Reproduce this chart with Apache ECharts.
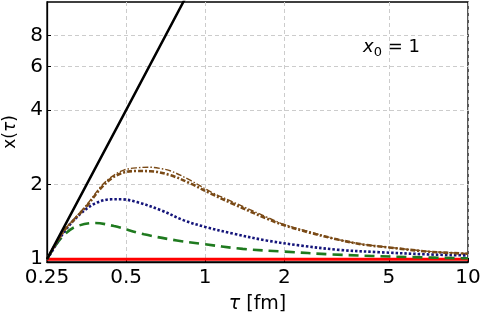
<!DOCTYPE html>
<html>
<head>
<meta charset="utf-8">
<title>x(tau)</title>
<script src="https://cdn.jsdelivr.net/npm/echarts@6/dist/echarts.min.js"></script>
<style>
  html, body { margin: 0; padding: 0; background: #fff; }
  #main { width: 482px; height: 322px; }
</style>
</head>
<body>
<div id="main"></div>
<script>
// tick labels
var xTicks = [0.25, 0.5, 1, 2, 5, 10];
var yTicks = [1, 2, 4, 6, 8];

// curves (tau in fm, x(tau))
var blackTau = [0.25, 0.5, 0.85];
var blackVal = [1, 4, 11.6];

var redTau = [0.25, 10];
var redVal = [1, 1];

var greenTau = [0.25, 0.27, 0.29, 0.32, 0.38, 0.45, 0.585, 0.78, 0.96, 1.39, 1.98, 3.05, 6.1, 10];
var greenVal = [1, 1.14, 1.25, 1.35, 1.40, 1.36, 1.26, 1.19, 1.155, 1.10, 1.074, 1.045, 1.019, 1.008];

var blueTau = [0.25, 0.26, 0.29, 0.33, 0.38, 0.44, 0.48, 0.55, 0.68, 0.83, 1.0, 1.28, 1.71, 2.29, 3.24, 4.6, 7.1, 10];
var blueVal = [1, 1.067, 1.286, 1.503, 1.676, 1.745, 1.745, 1.70, 1.575, 1.434, 1.35, 1.267, 1.19, 1.136, 1.09, 1.067, 1.045, 1.035];

var brownTau = [0.25, 0.29, 0.32, 0.356, 0.40, 0.44, 0.49, 0.55, 0.62, 0.74, 0.88, 1.05, 1.28, 1.71, 2.0, 2.5, 3.2, 4.0, 5.0, 7.1, 10];
var brownVal = [1, 1.30, 1.46, 1.65, 1.93, 2.12, 2.24, 2.27, 2.265, 2.18, 2.02, 1.84, 1.67, 1.46, 1.37, 1.28, 1.20, 1.145, 1.115, 1.072, 1.052];

var brown2Tau = [0.25, 0.29, 0.32, 0.356, 0.40, 0.44, 0.49, 0.55, 0.62, 0.68, 0.74, 0.88, 1.05, 1.28, 1.71, 2.0, 2.5, 3.2, 4.0, 5.0, 7.1, 10];
var brown2Val = [1, 1.30, 1.47, 1.67, 1.96, 2.15, 2.29, 2.34, 2.35, 2.32, 2.27, 2.08, 1.87, 1.70, 1.48, 1.38, 1.29, 1.20, 1.148, 1.117, 1.075, 1.054];

var xMin = 0.25, xMax = 10;
var yMin = 0.974, yMax = 10.93;

var lg = Math.log10;
function pts(t, v) {
    return t.map(function (tt, i) { return [lg(tt), lg(v[i])]; });
}
function fmt(v) {
    return String(+Math.pow(10, v).toPrecision(2));
}

var font = 'DejaVu Sans';
var chart = echarts.init(document.getElementById('main'));

var gridLine = { show: true, lineStyle: { color: '#cccccc', type: [4, 3], width: 1 } };

var option = {
    animation: false,
    backgroundColor: '#fff',
    grid: {
        left: 47, right: 14, top: 2, bottom: 60,
        show: true, borderColor: '#000', borderWidth: 1.3,
        outerBoundsMode: 'none'
    },
    xAxis: {
        type: 'value',
        min: lg(xMin), max: lg(xMax),
        axisLine: { onZero: false, lineStyle: { color: '#000', width: 1.3 } },
        axisTick: { inside: true, length: 4, lineStyle: { color: '#000' }, customValues: xTicks.map(lg) },
        axisLabel: { customValues: xTicks.map(lg), formatter: fmt, color: '#000', fontFamily: font, fontSize: 20, margin: 6 },
        splitLine: gridLine,
        name: '{i|τ} [fm]',
        nameLocation: 'middle',
        nameGap: 33,
        nameTextStyle: { color: '#000', fontFamily: font, fontSize: 19, rich: { i: { fontStyle: 'italic', fontFamily: font, fontSize: 19 } } }
    },
    yAxis: {
        type: 'value',
        min: lg(yMin), max: lg(yMax),
        axisLine: { onZero: false, lineStyle: { color: '#000', width: 1.3 } },
        axisTick: { inside: true, length: 4, lineStyle: { color: '#000' }, customValues: yTicks.map(lg) },
        axisLabel: { customValues: yTicks.map(lg), formatter: fmt, color: '#000', fontFamily: font, fontSize: 20, margin: 4 },
        splitLine: gridLine,
        name: 'x({i|τ})',
        nameLocation: 'middle',
        nameGap: 27,
        nameTextStyle: { color: '#000', fontFamily: font, fontSize: 17, rich: { i: { fontStyle: 'italic', fontFamily: font, fontSize: 17 } } }
    },
    graphic: [{
        type: 'text',
        left: 363, top: 38,
        style: {
            text: '{i|x}{s|0}{n| = 1}',
            rich: {
                i: { fontFamily: font, fontStyle: 'italic', fontSize: 18, fill: '#000', lineHeight: 22, verticalAlign: 'top' },
                s: { fontFamily: font, fontSize: 13, fill: '#000', padding: [8, 0, 0, 0], lineHeight: 22, verticalAlign: 'top' },
                n: { fontFamily: font, fontSize: 18, fill: '#000', lineHeight: 22, verticalAlign: 'top' }
            }
        }
    }],
    series: [
        { type: 'line', data: pts(redTau, redVal), symbol: 'none', z: 2,
          lineStyle: { color: '#ff0000', width: 3 } },
        { type: 'line', data: pts(greenTau, greenVal), symbol: 'none', smooth: 0.35, z: 3,
          lineStyle: { color: '#1f7a1f', width: 2.6, type: [10, 6] } },
        { type: 'line', data: pts(blueTau, blueVal), symbol: 'none', smooth: 0.35, z: 3,
          lineStyle: { color: '#14147a', width: 2.6, type: [2.5, 2] } },
        { type: 'line', data: pts(brownTau, brownVal), symbol: 'none', smooth: 0.35, z: 3,
          lineStyle: { color: '#7a4a16', width: 2.6, type: [5, 2, 2, 2] } },
        { type: 'line', data: pts(brown2Tau, brown2Val), symbol: 'none', smooth: 0.35, z: 3,
          lineStyle: { color: '#7a4a16', width: 1.4, type: [6, 2, 1.5, 2] } },
        { type: 'line', data: pts(blackTau, blackVal), symbol: 'none', z: 4,
          lineStyle: { color: '#000', width: 2.5 } }
    ]
};

chart.setOption(option);
</script>
</body>
</html>
